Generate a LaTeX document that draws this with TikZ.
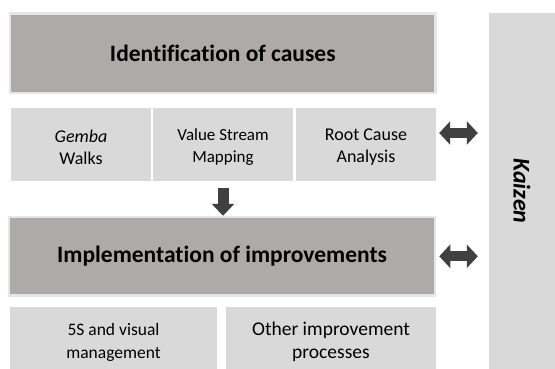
\documentclass[tikz,border=0pt]{standalone}
\usepackage{fontspec}
\setmainfont[Ligatures={NoCommon},RawFeature={-liga;-clig;-dlig}]{Carlito}
\usetikzlibrary{arrows.meta}
\definecolor{stage}{HTML}{AEAAAA}
\definecolor{stageedge}{HTML}{E7E6E6}
\definecolor{tool}{HTML}{D9D9D9}
\definecolor{arrowgray}{HTML}{404040}
\begin{document}
\begin{tikzpicture}[x=1pt,y=-1pt,
  stagebox/.style={rectangle, fill=stage, draw=stageedge, line width=2.5pt,
    inner sep=0pt, align=center,
    font=\fontsize{23.5}{28}\selectfont\bfseries},
  toolbox/.style={rectangle, fill=tool, inner sep=0pt},
  tooltext/.style={inner sep=0pt, align=center},
  sidebox/.style={rectangle, fill=tool, inner sep=0pt},
  downarrow/.style={draw=arrowgray, line width=11pt,
    -{Triangle[width=22pt,length=12pt]}},
  bothways/.style={draw=arrowgray, line width=10pt,
    {Triangle[width=23pt,length=11pt]}-{Triangle[width=23pt,length=11pt]},
    shorten <=3pt, shorten >=11pt}
]
\useasboundingbox (0,0) rectangle (555,369);

% stage 1: identification
\node[stagebox, minimum width=425.2pt, minimum height=79.7pt] (ident)
  at (222.8,53.2) {Identification of causes};

% tools used to identify causes
\node[toolbox, minimum width=140pt, minimum height=73pt] (gemba) at (81,144.5) {};
\node[toolbox, minimum width=140pt, minimum height=73pt] (vsm) at (223,144.5) {};
\node[toolbox, minimum width=140pt, minimum height=73pt] (rca) at (366,144.5) {};
\node[tooltext, font=\fontsize{18}{22}\selectfont] (gembatext)
  at ([yshift=-3pt]gemba.center) {\textit{Gemba}\\Walks};
\node[tooltext, font=\fontsize{17}{22}\selectfont] (vsmtext)
  at ([yshift=-3pt]vsm.center) {Value Stream\\Mapping};
\node[tooltext, font=\fontsize{18}{22}\selectfont] (rcatext)
  at ([yshift=-3pt]rca.center) {Root Cause\\Analysis};

% stage 2: implementation
\node[stagebox, minimum width=425.8pt, minimum height=78.5pt] (impl)
  at (222.1,256.3) {Implementation of improvements};

% tools used to implement improvements
\node[toolbox, minimum width=207pt, minimum height=62pt] (fives) at (113.5,338) {};
\node[toolbox, minimum width=210pt, minimum height=62pt] (other) at (331,338) {};
\node[tooltext, font=\fontsize{17.5}{23}\selectfont] (fivestext)
  at ([yshift=-4pt]fives.center) {5S and visual\\management};
\node[tooltext, font=\fontsize{19.5}{23}\selectfont] (othertext)
  at ([yshift=-4pt]other.center) {Other improvement\\processes};

% continuous improvement column
\node[sidebox, minimum width=66pt, minimum height=356pt] (kaizen) at (522,191) {};
\node[rotate=-90, font=\fontsize{24}{28}\selectfont\bfseries\itshape]
  (kaizenlabel) at (kaizen.center) {Kaizen};

% connectors
\draw[downarrow, shorten <=7pt] (vsm.south) -- (vsm.south |- impl.north);
\draw[bothways]
  ([yshift=11.5pt]rca.east) -- ([yshift=11.5pt]rca.east -| kaizen.west);
\draw[bothways] (impl.east) -- (impl.east -| kaizen.west);
\end{tikzpicture}
\end{document}
